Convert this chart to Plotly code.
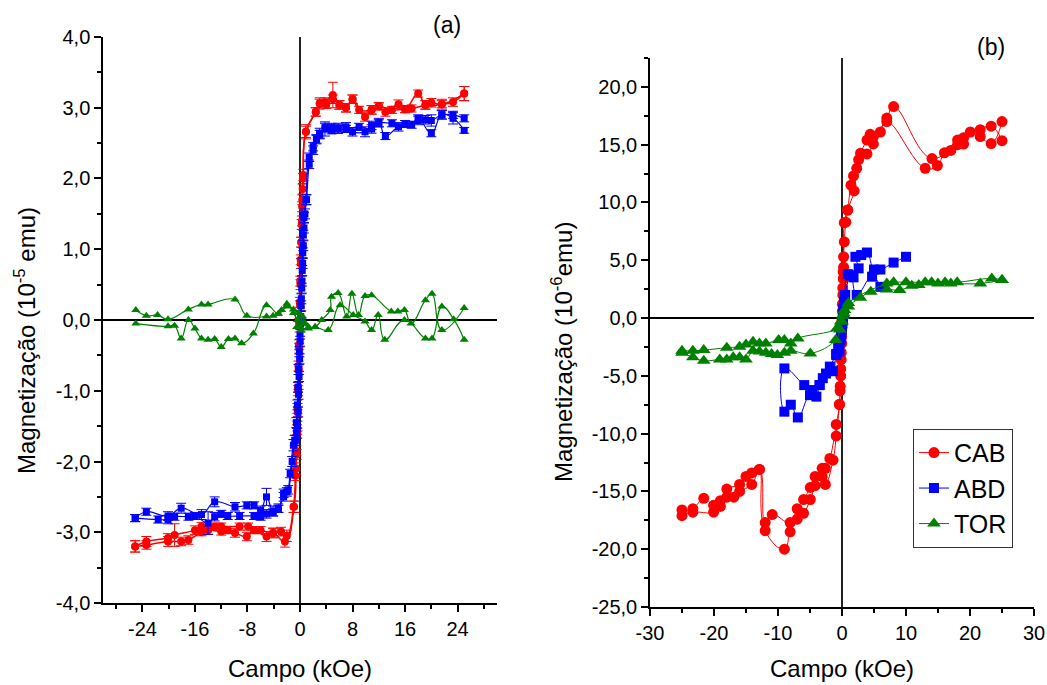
import plotly.graph_objects as go

# ---------------- Panel (a) data (10^-5 emu vs kOe) ----------------
a_cab_dn_x = [25.0, 23.3, 21.6, 19.1, 18.0, 16.0, 15.0, 13.0, 12.0, 10.9, 9.0, 8.0, 7.0, 6.0, 5.0, 3.8, 3.0, 2.4, 0.9, 0.5,
              0.4, 0.32, 0.25, 0.18, 0.1, 0.03, -0.04, -0.1, -0.17, -0.24, -0.3, -0.38, -0.45, -0.55, -0.6,
              -0.9, -2.3, -4.1, -5.1, -7.0, -8.1, -9.9, -11.0, -12.0, -14.0, -15.0, -17.0, -18.1, -20.1, -23.4, -25.1]
a_cab_dn_y = [3.20, 3.08, 3.05, 3.04, 3.20, 2.98, 3.05, 2.94, 3.02, 2.97, 2.97, 3.12, 3.00, 3.04, 3.18, 3.08, 3.06, 2.94, 2.66, 2.05,
              1.85, 1.60, 1.35, 1.10, 0.85, 0.55, 0.25, -0.05, -0.35, -0.65, -0.95, -1.25, -1.55, -1.85, -2.10,
              -2.64, -3.13, -3.01, -3.06, -2.97, -3.06, -3.01, -2.97, -2.99, -2.97, -3.00, -3.11, -3.13, -3.13, -3.18, -3.20]
a_cab_dn_err = [0.10, 0.06, 0.07, 0.06, 0.05, 0.05, 0.06, 0.06, 0.05, 0.06, 0.05, 0.06, 0.06, 0.06, 0.18, 0.06, 0.08, 0.06, 0.10, 0.08,
                0.07, 0.07, 0.07, 0.07, 0.07, 0.07, 0.07, 0.07, 0.07, 0.07, 0.07, 0.07, 0.07, 0.07, 0.08,
                0.08, 0.08, 0.07, 0.07, 0.05, 0.06, 0.06, 0.05, 0.05, 0.06, 0.05, 0.06, 0.06, 0.07, 0.06, 0.08]
a_cab_up_x = [-25.1, -23.4, -20.1, -19.1, -16.0, -15.0, -13.0, -12.0, -9.2, -7.9, -6.0, -4.1, -2.9, -2.0, -1.0,
              -0.7, -0.5, -0.42, -0.35, -0.28, -0.2, -0.13, -0.06, 0.0, 0.07, 0.14, 0.2, 0.28, 0.35, 0.45,
              0.9, 2.4, 3.0, 4.0, 5.0, 6.0, 7.0, 8.0, 9.9, 10.9, 12.0, 14.0, 16.0, 17.0, 19.1, 20.0, 21.6, 25.0]
a_cab_up_y = [-3.20, -3.13, -3.08, -3.04, -2.97, -2.92, -2.92, -2.92, -2.92, -2.92, -2.97, -3.01, -2.99, -3.05, -2.64,
              -2.20, -1.90, -1.60, -1.30, -1.00, -0.70, -0.40, -0.10, 0.20, 0.50, 0.80, 1.10, 1.40, 1.70, 2.00,
              2.66, 2.94, 3.06, 3.05, 3.12, 3.04, 3.00, 3.12, 2.87, 2.97, 3.02, 2.97, 2.98, 2.99, 3.04, 3.07, 3.05, 3.20]
a_cab_up_err = [0.08, 0.07, 0.06, 0.16, 0.06, 0.06, 0.05, 0.05, 0.05, 0.05, 0.05, 0.06, 0.06, 0.08, 0.08,
                0.07, 0.07, 0.07, 0.07, 0.07, 0.07, 0.07, 0.07, 0.07, 0.07, 0.07, 0.07, 0.07, 0.07, 0.07,
                0.08, 0.06, 0.06, 0.06, 0.06, 0.06, 0.06, 0.06, 0.06, 0.06, 0.05, 0.05, 0.05, 0.05, 0.06, 0.06, 0.05, 0.10]

a_abd_dn_x = [25.0, 23.3, 21.6, 20.0, 18.0, 17.0, 15.0, 13.0, 12.0, 10.9, 9.9, 8.0, 7.0, 5.8, 4.8, 3.8, 3.0, 2.5, 2.0, 1.4,
              0.9, 0.6, 0.5, 0.42, 0.34, 0.26, 0.18, 0.1, 0.02, -0.06, -0.14, -0.22, -0.3, -0.4, -0.5,
              -0.7, -1.0, -1.5, -2.0, -2.5, -3.3, -4.1, -5.1, -6.0, -7.0, -8.1, -9.9, -13.0, -15.0, -18.1, -20.1, -23.4, -25.1]
a_abd_dn_y = [2.68, 2.85, 2.90, 2.64, 2.85, 2.76, 2.73, 2.60, 2.79, 2.75, 2.66, 2.66, 2.73, 2.71, 2.68, 2.70, 2.64, 2.56, 2.40, 2.30,
              1.70, 1.45, 1.20, 0.95, 0.70, 0.45, 0.20, -0.05, -0.30, -0.55, -0.80, -1.05, -1.30, -1.50, -1.60,
              -1.70, -1.77, -2.17, -2.43, -2.45, -2.66, -2.70, -2.50, -2.69, -2.62, -2.62, -2.64, -2.57, -2.75, -2.66, -2.77, -2.71, -2.80]
a_abd_dn_err = [0.04, 0.08, 0.06, 0.05, 0.05, 0.05, 0.06, 0.05, 0.06, 0.06, 0.07, 0.06, 0.06, 0.07, 0.05, 0.10, 0.07, 0.06, 0.06, 0.06,
                0.07, 0.07, 0.07, 0.07, 0.07, 0.07, 0.07, 0.07, 0.07, 0.07, 0.07, 0.07, 0.07, 0.07, 0.07,
                0.07, 0.08, 0.06, 0.06, 0.06, 0.06, 0.07, 0.12, 0.06, 0.05, 0.05, 0.06, 0.07, 0.07, 0.07, 0.06, 0.05, 0.05]
a_abd_up_x = [-25.1, -21.6, -20.1, -19.1, -17.0, -16.0, -14.0, -13.0, -12.0, -11.0, -9.2, -7.0, -6.0, -5.1, -4.1,
              -3.3, -2.5, -1.8, -1.2, -0.8, -0.55, -0.4, -0.3, -0.2, -0.1, 0.0, 0.1, 0.2, 0.3, 0.4,
              0.5, 0.6, 0.75, 1.0, 1.4, 2.0, 2.5, 3.0, 3.8, 4.8, 5.8, 7.0, 9.0, 10.9, 12.0,
              14.0, 16.0, 18.0, 19.1, 20.0, 21.6, 23.3, 25.0]
a_abd_up_y = [-2.80, -2.82, -2.82, -2.78, -2.78, -2.77, -2.87, -2.78, -2.74, -2.77, -2.77, -2.77, -2.78, -2.74, -2.72,
              -2.67, -2.50, -2.40, -2.00, -1.70, -1.45, -1.20, -0.95, -0.70, -0.45, -0.20, 0.05, 0.30, 0.55, 0.80,
              1.05, 1.30, 1.50, 1.70, 2.20, 2.45, 2.55, 2.62, 2.72, 2.72, 2.70, 2.70, 2.73, 2.70, 2.78,
              2.78, 2.77, 2.82, 2.83, 2.82, 2.90, 2.90, 2.85]
a_abd_up_err = [0.05, 0.05, 0.06, 0.05, 0.05, 0.05, 0.16, 0.06, 0.05, 0.05, 0.05, 0.05, 0.05, 0.06, 0.05,
                0.05, 0.06, 0.06, 0.07, 0.07, 0.07, 0.07, 0.07, 0.07, 0.07, 0.07, 0.07, 0.07, 0.07, 0.07,
                0.07, 0.07, 0.07, 0.07, 0.06, 0.06, 0.06, 0.06, 0.06, 0.06, 0.06, 0.05, 0.05, 0.06, 0.05,
                0.05, 0.05, 0.06, 0.06, 0.08, 0.06, 0.05, 0.05]

a_tor_up_x = [-25.0, -23.4, -21.7, -20.1, -17.0, -15.0, -14.0, -9.9, -8.1, -5.1, -4.1, -3.3, -2.8, -2.0, -1.0,
              -0.4, 0.0, 0.4, 0.8, 1.3, 2.3, 3.3, 4.6, 4.8, 5.8, 7.1, 7.9, 8.9, 9.9, 10.9,
              13.9, 14.9, 15.9, 16.9, 19.1, 20.1, 21.6, 25.0]
a_tor_up_y = [0.14, 0.06, 0.07, 0.01, 0.15, 0.22, 0.22, 0.29, 0.06, 0.05, 0.06, 0.09, 0.14, 0.23, 0.10,
              0.00, -0.10, 0.05, -0.05, -0.10, -0.10, 0.00, 0.14, 0.33, 0.38, 0.05, 0.37, 0.07, 0.34, 0.35,
              0.12, 0.12, 0.14, -0.05, 0.28, 0.37, -0.14, 0.17]
a_tor_dn_x = [25.0, 23.4, 21.6, 20.1, 19.1, 15.9, 12.9, 11.9, 10.9, 9.9, 8.1, 6.1, 4.3, 2.3, 1.3,
              0.5, 0.2, -0.2, -0.5, -1.0, -2.0, -3.3, -5.1, -7.1, -8.9, -9.9, -10.9, -12.0, -13.0, -14.0,
              -15.0, -16.0, -17.0, -18.1, -19.1, -20.1, -25.0]
a_tor_dn_y = [-0.28, 0.01, 0.19, -0.26, -0.26, 0.00, -0.28, 0.07, -0.14, -0.02, 0.07, 0.21, -0.14, -0.10, -0.12,
              -0.05, -0.15, 0.10, -0.10, 0.15, 0.19, 0.09, 0.21, -0.19, -0.33, -0.26, -0.27, -0.38, -0.27, -0.28,
              -0.26, -0.12, 0.00, -0.26, -0.08, -0.09, -0.05]

# ---------------- Panel (b) data (10^-6 emu vs kOe) ----------------
b_cab_dn_x = [25.0, 23.3, 21.6, 19.0, 18.06, 14.06, 8.06, 7.0, 4.9, 4.4, 3.9, 2.9, 1.8, 1.4, 0.9,
              0.6, 0.36, 0.25, 0.18, 0.12, 0.06, 0.0, -0.06, -0.12, -0.2, -0.28, -0.4, -0.9, -1.9, -2.6,
              -3.1, -4.2, -4.95, -6.0, -7.0, -8.1, -10.9, -12.0, -12.9, -14.1, -15.0, -16.0, -18.0, -19.0, -20.06,
              -21.6, -23.3, -25.0]
b_cab_dn_y = [15.35, 16.6, 16.3, 15.6, 15.4, 13.8, 18.3, 17.3, 15.7, 15.9, 15.4, 14.26, 12.3, 11.5, 9.35,
              8.3, 6.6, 5.3, 4.0, 2.6, 1.2, -0.2, -1.6, -3.0, -4.4, -5.9, -7.5, -9.2, -12.15, -13.0,
              -13.0, -13.7, -14.66, -15.7, -16.5, -17.7, -17.0, -17.7, -13.1, -13.4, -13.7, -14.4, -14.8, -15.8, -16.2,
              -15.6, -16.5, -16.6]
b_cab_up_x = [-25.0, -23.3, -20.06, -19.0, -18.0, -16.9, -16.0, -14.1, -12.9, -12.0, -9.0, -8.1, -7.0, -6.0, -4.95,
              -4.2, -3.1, -2.6, -1.4, -0.9, -0.4, -0.3, -0.2, -0.13, -0.06, 0.0, 0.06, 0.13, 0.2, 0.25,
              0.36, 0.88, 1.9, 2.3, 2.6, 3.9, 4.9, 6.0, 7.0, 13.0, 14.9, 16.0, 17.0, 18.06, 19.0,
              20.05, 21.6, 23.3, 25.0]
b_cab_up_y = [-17.1, -16.8, -16.8, -16.3, -15.5, -15.5, -15.0, -14.4, -13.1, -18.4, -20.0, -18.5, -17.4, -16.9, -15.7,
              -14.5, -13.7, -14.4, -12.3, -10.2, -7.45, -6.3, -5.0, -3.6, -2.2, -0.8, 0.6, 2.0, 3.4, 4.4,
              8.25, 9.35, 11.0, 12.96, 13.7, 14.2, 15.07, 16.1, 17.0, 12.96, 13.2, 14.3, 14.5, 15.0, 15.05,
              16.1, 15.7, 15.1, 17.0]

b_abd_x = [10.0, 8.06, 6.0, 5.0, 3.9, 3.0, 2.1, 2.6, 1.8, 0.9, 0.45, 0.3, 0.2, 0.12, 0.05,
           -0.02, -0.1, -0.2, -0.4, -0.9, -1.4, -2.5, -3.0, -3.5, -4.6, -5.9, -9.0, -9.0, -8.0, -6.9,
           -5.0, -4.0, -3.5, -1.9, -0.9, -0.6, -0.3, -0.15, 0.0, 0.15, 0.3, 0.5, 1.4, 2.3, 4.7, 6.0]
b_abd_y = [5.3, 4.8, 4.2, 4.2, 5.67, 5.45, 5.3, 4.3, 3.52, 3.8, 2.0, 1.4, 0.8, 0.2, -0.4,
           -1.0, -1.5, -1.9, -2.9, -3.2, -4.6, -4.8, -5.2, -5.8, -6.23, -5.8, -4.36, -8.1, -7.5, -8.6,
           -6.67, -6.8, -5.8, -4.2, -3.1, -2.6, -2.0, -1.4, -0.8, -0.2, 0.4, 2.0, 3.7, 2.0, 3.58, 2.7]

b_tor_up_x = [-25.0, -23.3, -21.6, -19.1, -18.0, -17.0, -16.0, -15.0, -13.9, -12.9, -11.9, -11.0, -10.1, -9.0, -8.0,
              -4.95, -1.0, -0.3, 0.0, 0.3, 1.0, 2.86, 4.5, 7.0, 9.0, 10.9, 12.0, 14.0, 15.0, 17.0, 21.6, 25.0]
b_tor_up_y = [-3.0, -3.4, -3.7, -3.58, -3.58, -3.4, -3.4, -3.58, -2.83, -2.9, -3.0, -3.1, -3.2, -3.0, -2.83,
              -3.06, -1.9, -1.0, -0.3, 0.4, 1.0, 1.76, 2.28, 2.48, 2.42, 2.8, 2.87, 3.1, 3.0, 3.0, 2.99, 3.3]
b_tor_dn_x = [25.0, 23.4, 18.0, 16.1, 13.0, 10.0, 8.06, 7.0, 1.0, 0.4, 0.1, -0.2, -0.8, -6.9, -8.0,
              -9.0, -9.9, -11.9, -12.9, -13.9, -15.0, -16.0, -18.0, -21.6, -23.3, -25.0]
b_tor_dn_y = [3.3, 3.43, 3.1, 3.1, 3.1, 3.1, 3.1, 2.99, 1.3, 0.7, 0.2, -0.3, -0.9, -1.76, -2.2,
              -1.9, -1.9, -2.2, -2.2, -2.05, -2.28, -2.48, -2.57, -2.77, -2.83, -2.83]

# ---------------- Tick labels ----------------
a_xtick_vals = [-24, -16, -8, 0, 8, 16, 24]
a_xtick_text = ["-24", "-16", "-8", "0", "8", "16", "24"]
a_xminor_vals = [-28, -20, -12, -4, 4, 12, 20, 28]
a_ytick_vals = [-4, -3, -2, -1, 0, 1, 2, 3, 4]
a_ytick_text = ["-4,0", "-3,0", "-2,0", "-1,0", "0,0", "1,0", "2,0", "3,0", "4,0"]
a_yminor_vals = [-3.5, -2.5, -1.5, -0.5, 0.5, 1.5, 2.5, 3.5]
b_xtick_vals = [-30, -20, -10, 0, 10, 20, 30]
b_xtick_text = ["-30", "-20", "-10", "0", "10", "20", "30"]
b_xminor_vals = [-25, -15, -5, 5, 15, 25]
b_ytick_vals = [-25, -20, -15, -10, -5, 0, 5, 10, 15, 20]
b_ytick_text = ["-25,0", "-20,0", "-15,0", "-10,0", "-5,0", "0,0", "5,0", "10,0", "15,0", "20,0"]
b_yminor_vals = [-22.5, -17.5, -12.5, -7.5, -2.5, 2.5, 7.5, 12.5, 17.5, 22.5]

RED, BLUE, GREEN = '#FF0000', '#0000FF', '#008000'
FONT = 'Liberation Sans, Arial, sans-serif'

fig = go.Figure()


def add(x, y, color, symbol, size, xa, ya, name, legend, err=None, lw=1.2):
    tr = go.Scatter(
        x=x, y=y, mode='lines+markers', name=name, showlegend=legend, legendgroup=name,
        line=dict(color=color, width=lw, shape='spline', smoothing=1.3),
        marker=dict(color=color, symbol=symbol, size=size, line=dict(width=0)),
        xaxis=xa, yaxis=ya)
    if err is not None:
        tr.error_y = dict(type='data', array=err, visible=True, color=color, thickness=1, width=5)
    fig.add_trace(tr)


# panel (a)
add(a_cab_dn_x, a_cab_dn_y, RED, 'circle', 8, 'x', 'y', 'CAB', False, a_cab_dn_err, 1.5)
add(a_cab_up_x, a_cab_up_y, RED, 'circle', 8, 'x', 'y', 'CAB', False, a_cab_up_err, 1.5)
add(a_abd_dn_x, a_abd_dn_y, BLUE, 'square', 7, 'x', 'y', 'ABD', False, a_abd_dn_err, 1.2)
add(a_abd_up_x, a_abd_up_y, BLUE, 'square', 7, 'x', 'y', 'ABD', False, a_abd_up_err, 1.2)
add(a_tor_up_x, a_tor_up_y, GREEN, 'triangle-up', 8, 'x', 'y', 'TOR', False, None, 1.2)
add(a_tor_dn_x, a_tor_dn_y, GREEN, 'triangle-up', 8, 'x', 'y', 'TOR', False, None, 1.2)

# panel (b)
add(b_cab_dn_x, b_cab_dn_y, RED, 'circle', 11, 'x2', 'y2', 'CAB', True, None, 1.0)
add(b_cab_up_x, b_cab_up_y, RED, 'circle', 11, 'x2', 'y2', 'CAB', False, None, 1.0)
add(b_abd_x, b_abd_y, BLUE, 'square', 10, 'x2', 'y2', 'ABD', True, None, 1.0)
add(b_tor_up_x, b_tor_up_y, GREEN, 'triangle-up', 12, 'x2', 'y2', 'TOR', True, None, 1.0)
add(b_tor_dn_x, b_tor_dn_y, GREEN, 'triangle-up', 12, 'x2', 'y2', 'TOR', False, None, 1.0)

axis_common = dict(showgrid=False, showline=True, linecolor='black', linewidth=1.5,
                   ticks='outside', ticklen=7, tickwidth=1.5, tickcolor='black',
                   tickfont=dict(size=20, color='black', family=FONT),
                   automargin=False, fixedrange=True, tickmode='array')
minor_common = dict(ticks='outside', ticklen=4, tickwidth=1.5, tickcolor='black', tickmode='array')

fig.update_layout(
    width=1047, height=685,
    margin=dict(l=0, r=0, t=0, b=0),
    paper_bgcolor='white', plot_bgcolor='white',
    font=dict(family=FONT, color='black'),
    xaxis=dict(axis_common, domain=[0.0984, 0.4747], range=[-30, 30], anchor='y',
               tickvals=a_xtick_vals, ticktext=a_xtick_text,
               minor=dict(minor_common, tickvals=a_xminor_vals),
               zeroline=True, zerolinecolor='#222222', zerolinewidth=2),
    yaxis=dict(axis_common, domain=[0.1197, 0.946], range=[-4, 4], anchor='x',
               tickvals=a_ytick_vals, ticktext=a_ytick_text,
               minor=dict(minor_common, tickvals=a_yminor_vals),
               zeroline=True, zerolinecolor='black', zerolinewidth=1.5),
    xaxis2=dict(axis_common, domain=[0.6208, 0.9876], range=[-30, 30], anchor='y2',
                tickvals=b_xtick_vals, ticktext=b_xtick_text,
                minor=dict(minor_common, tickvals=b_xminor_vals),
                zeroline=True, zerolinecolor='#222222', zerolinewidth=2),
    yaxis2=dict(axis_common, domain=[0.1139, 0.9153], range=[-25, 22.5], anchor='x2',
                tickvals=b_ytick_vals, ticktext=b_ytick_text,
                minor=dict(minor_common, tickvals=b_yminor_vals),
                zeroline=True, zerolinecolor='black', zerolinewidth=1.5),
    legend=dict(x=0.872, y=0.374, xanchor='left', yanchor='top',
                bgcolor='white', bordercolor='#333333', borderwidth=1,
                font=dict(size=25, family=FONT, color='black'),
                tracegroupgap=0, itemsizing='trace'),
    showlegend=True,
)

ann = [
    dict(text='Magnetização (10<sup>-5</sup> emu)', x=25 / 1047, y=1 - 341 / 685, textangle=-90),
    dict(text='Magnetização (10<sup>-6</sup>emu)', x=562 / 1047, y=1 - 352 / 685, textangle=-90),
    dict(text='Campo (kOe)', x=300 / 1047, y=1 - 668 / 685, textangle=0),
    dict(text='Campo (kOe)', x=842 / 1047, y=1 - 668 / 685, textangle=0),
]
for a in ann:
    fig.add_annotation(xref='paper', yref='paper', showarrow=False, xanchor='center', yanchor='middle',
                       font=dict(size=24, family=FONT, color='black'), **a)
fig.add_annotation(text='(a)', xref='paper', yref='paper', x=447 / 1047, y=1 - 25 / 685, showarrow=False,
                   xanchor='center', yanchor='middle', font=dict(size=23, family=FONT, color='black'))
fig.add_annotation(text='(b)', xref='paper', yref='paper', x=991 / 1047, y=1 - 47 / 685, showarrow=False,
                   xanchor='center', yanchor='middle', font=dict(size=23, family=FONT, color='black'))

fig.write_html("out.html")
